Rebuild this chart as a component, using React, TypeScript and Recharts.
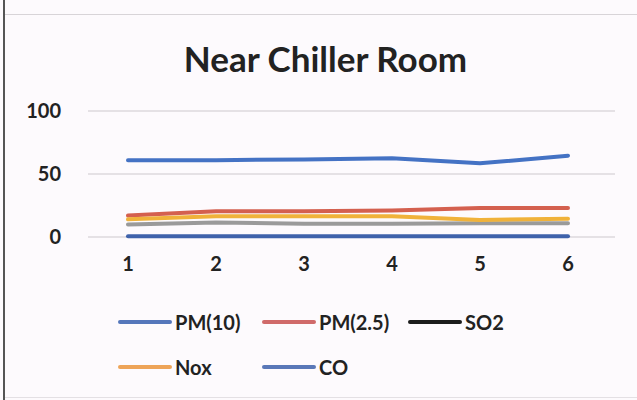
import React from "react";
import { LineChart, Line, XAxis, YAxis, CartesianGrid, Legend } from "recharts";

const categories = ["1", "2", "3", "4", "5", "6"];
const pm10 = [61, 61, 61.5, 62.5, 58.5, 64.5];
const pm25 = [17, 20.5, 20.5, 21, 23, 23];
const so2 = [10, 11.5, 10.5, 10.5, 11, 11];
const nox = [14, 16.5, 16.5, 16.5, 13.5, 14.5];
const co = [0.5, 0.5, 0.5, 0.5, 0.5, 0.5];
const yTicks = [0, 50, 100];
const seriesNames = ["PM(10)", "PM(2.5)", "SO2", "Nox", "CO"];

const data = categories.map((c, i) => ({
  cat: c,
  "PM(10)": pm10[i],
  "PM(2.5)": pm25[i],
  SO2: so2[i],
  Nox: nox[i],
  CO: co[i],
}));

const lineColors: Record<string, string> = {
  "PM(10)": "#4472c4",
  "PM(2.5)": "#d4604f",
  SO2: "#9a9a9a",
  Nox: "#f0b23a",
  CO: "#3f62ab",
};
const legendColors: Record<string, string> = {
  "PM(10)": "#5577bb",
  "PM(2.5)": "#d06a6a",
  SO2: "#1c1c1c",
  Nox: "#eea458",
  CO: "#5a78b8",
};

const FONT = "Lato, 'Open Sans', sans-serif";

const LegendContent = () => {
  const colX = [118, 262, 408];
  const rowY = [32, 77];
  return (
    <div style={{ position: "relative", width: 637, height: 100 }}>
      {seriesNames.map((name, i) => {
        const row = Math.floor(i / 3);
        const col = i % 3;
        return (
          <div
            key={name}
            style={{
              position: "absolute",
              left: colX[col],
              top: rowY[row] - 14,
              height: 28,
              display: "flex",
              alignItems: "center",
              fontFamily: FONT,
              fontWeight: 700,
              fontSize: 20,
              color: "#222",
              whiteSpace: "nowrap",
            }}
          >
            <span
              style={{
                display: "inline-block",
                width: 54,
                height: 4,
                borderRadius: 2,
                background: legendColors[name],
                marginRight: 3,
              }}
            />
            {name}
          </div>
        );
      })}
    </div>
  );
};

export default function App() {
  return (
    <div
      style={{
        position: "fixed",
        left: 0,
        top: 0,
        width: 637,
        height: 400,
        background: "#fdfafd",
        overflow: "hidden",
      }}
    >
      <div style={{ position: "absolute", left: 3, top: 0, width: 2, height: 400, background: "#555" }} />
      <div style={{ position: "absolute", left: 5, top: 14, width: 632, height: 1, background: "#d8d4d8" }} />
      <div style={{ position: "absolute", left: 5, top: 397, width: 632, height: 1, background: "#e4e0e4" }} />
      <div
        style={{
          position: "absolute",
          left: 0,
          top: 37,
          width: 651,
          textAlign: "center",
          fontFamily: FONT,
          fontWeight: 700,
          fontSize: 35,
          color: "#222",
          lineHeight: "42px",
        }}
      >
        Near Chiller Room
      </div>
      <div style={{ position: "absolute", left: 0, top: 0 }}>
        <LineChart
          width={637}
          height={400}
          data={data}
          margin={{ top: 111, right: 22, bottom: 23, left: 0 }}
        >
          <CartesianGrid vertical={false} stroke="#dcd8dc" strokeWidth={1.5} />
          <XAxis
            dataKey="cat"
            axisLine={false}
            tickLine={false}
            tickSize={0}
            tickMargin={20}
            padding={{ left: 40, right: 47 }}
            tick={{ fill: "#222", fontSize: 20, fontWeight: 700, fontFamily: FONT }}
            height={40}
          />
          <YAxis
            domain={[0, 100]}
            ticks={yTicks}
            axisLine={false}
            tickLine={false}
            tickSize={0}
            tickMargin={27}
            width={88}
            tick={{ fill: "#222", fontSize: 20, fontWeight: 700, fontFamily: FONT }}
          />
          <Legend
            verticalAlign="bottom"
            content={<LegendContent />}
            wrapperStyle={{ left: 0, bottom: 10, width: 637, height: 100 }}
            height={100}
          />
          {seriesNames.map((name) => (
            <Line
              key={name}
              dataKey={name}
              stroke={lineColors[name]}
              strokeWidth={4}
              dot={false}
              isAnimationActive={false}
              strokeLinecap="round"
            />
          ))}
        </LineChart>
      </div>
    </div>
  );
}
